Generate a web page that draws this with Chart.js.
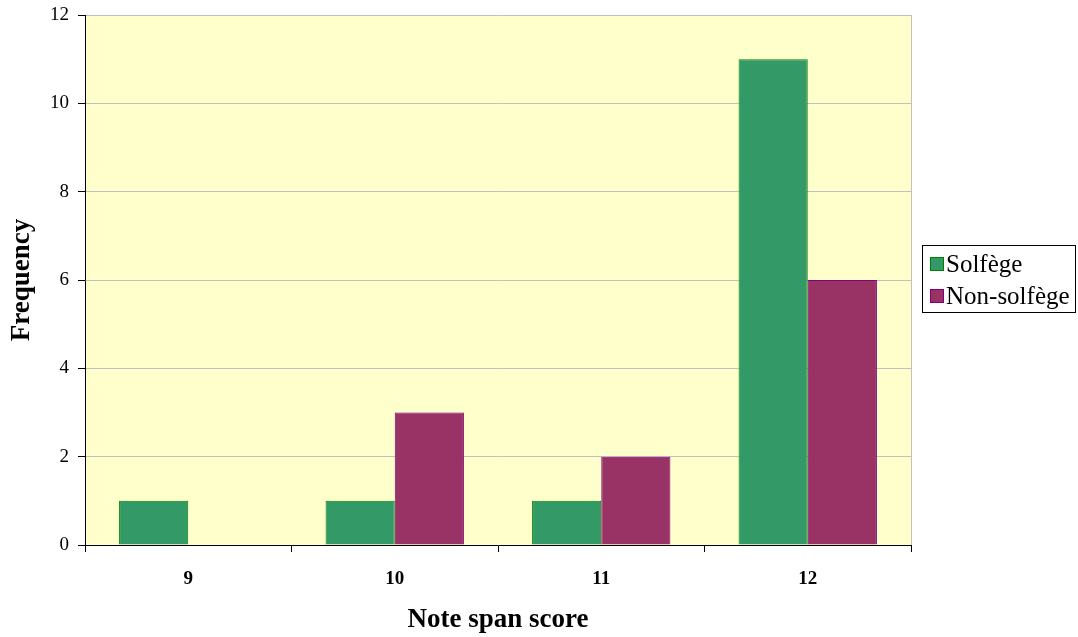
<!DOCTYPE html>
<html>
<head>
<meta charset="utf-8">
<script src="https://cdn.jsdelivr.net/npm/chart.js@4/dist/chart.umd.min.js"></script>
<style>
  html, body { margin: 0; padding: 0; background: #ffffff; }
  #wrap { width: 1078px; height: 637px; position: relative; }
</style>
</head>
<body>
<div id="wrap"><canvas id="c" width="1078" height="637"></canvas></div>
<script>
// Frequency of note span scores, split by training group
const categories = ['9', '10', '11', '12'];
const solfege = [1, 1, 1, 11];
const nonSolfege = [0, 3, 2, 6];
const seriesNames = ['Solfège', 'Non-solfège'];
const yTicks = [0, 2, 4, 6, 8, 10, 12];

const SERIF = '"Liberation Serif", "Times New Roman", Times, serif';

// Pale yellow plot background with a grey frame on the right
const plotBackground = {
  id: 'plotBackground',
  beforeDraw(chart) {
    const { ctx, chartArea: a } = chart;
    ctx.save();
    ctx.fillStyle = '#FFFFCC';
    ctx.fillRect(a.left, a.top, a.right - a.left, a.bottom - a.top);
    ctx.strokeStyle = '#C0C0C0';
    ctx.lineWidth = 1;
    ctx.beginPath();
    ctx.moveTo(Math.round(a.right) + 0.5, a.top);
    ctx.lineTo(Math.round(a.right) + 0.5, a.bottom);
    ctx.stroke();
    ctx.restore();
  }
};

// Boxed legend at the right of the plot
const boxedLegend = {
  id: 'boxedLegend',
  afterDraw(chart) {
    const { ctx } = chart;
    const x = 922.5, y = 245.5, w = 153, h = 67;
    ctx.save();
    ctx.fillStyle = '#ffffff';
    ctx.fillRect(x, y, w, h);
    ctx.strokeStyle = '#000000';
    ctx.lineWidth = 1;
    ctx.strokeRect(x, y, w, h);
    ctx.font = '25px ' + SERIF;
    ctx.textBaseline = 'middle';
    ctx.textAlign = 'left';
    chart.data.datasets.forEach((ds, i) => {
      const cy = 264 + i * 32;
      ctx.fillStyle = ds.backgroundColor;
      ctx.fillRect(930, cy - 7, 14, 14);
      ctx.strokeStyle = ds.borderColor;
      ctx.strokeRect(930.5, cy - 6.5, 13, 13);
      ctx.fillStyle = '#000000';
      ctx.fillText(ds.label, 946, cy + 1);
    });
    ctx.restore();
  }
};

new Chart(document.getElementById('c'), {
  type: 'bar',
  data: {
    labels: categories,
    datasets: [
      {
        label: seriesNames[0],
        data: solfege,
        backgroundColor: '#339966',
        borderColor: '#008000',
        borderWidth: 1,
        categoryPercentage: 0.67,
        barPercentage: 1.0
      },
      {
        label: seriesNames[1],
        data: nonSolfege,
        backgroundColor: '#993366',
        borderColor: '#800080',
        borderWidth: 1,
        categoryPercentage: 0.67,
        barPercentage: 1.0
      }
    ]
  },
  options: {
    responsive: false,
    animation: false,
    devicePixelRatio: 1,
    layout: { padding: { left: 0, right: 167, top: 15, bottom: 0 } },
    plugins: {
      legend: { display: false },
      tooltip: { enabled: false }
    },
    scales: {
      x: {
        grid: {
          offset: true,
          drawOnChartArea: false,
          drawTicks: true,
          tickLength: 7,
          tickColor: '#000000'
        },
        border: { color: '#000000', width: 1 },
        ticks: {
          color: '#000000',
          padding: 16,
          font: { family: SERIF, size: 19, weight: 'bold' }
        },
        title: {
          display: true,
          text: 'Note span score',
          color: '#000000',
          font: { family: SERIF, size: 27, weight: 'bold' },
          padding: { top: 0, bottom: 1 }
        },
        afterFit(scale) { scale.height = 92; }
      },
      y: {
        min: 0,
        max: 12,
        afterBuildTicks(scale) { scale.ticks = yTicks.map(v => ({ value: v })); },
        grid: {
          color: '#C0C0C0',
          lineWidth: 1,
          drawTicks: true,
          tickLength: 7,
          tickColor: '#000000'
        },
        border: { color: '#000000', width: 1 },
        ticks: {
          color: '#000000',
          padding: 9,
          font: { family: SERIF, size: 19 }
        },
        title: {
          display: true,
          text: 'Frequency',
          color: '#000000',
          font: { family: SERIF, size: 27, weight: 'bold' },
          padding: { top: 6, bottom: 0 }
        },
        afterFit(scale) {
          scale.width = 85;
          scale.paddingTop = 0;
          scale.paddingBottom = 0;
        }
      }
    }
  },
  plugins: [plotBackground, boxedLegend]
});
</script>
</body>
</html>
